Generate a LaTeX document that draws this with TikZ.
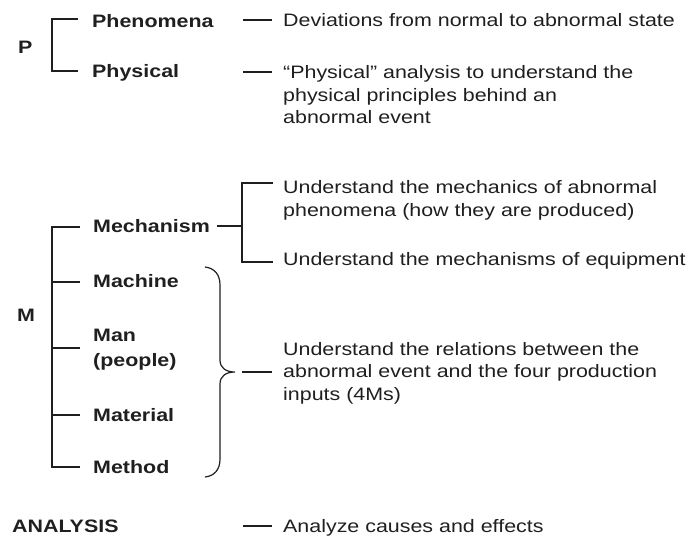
\documentclass[tikz,border=0pt]{standalone}
\usepackage{fontspec}
\setmainfont{Liberation Sans}[FakeStretch=1.19]
\definecolor{ink}{gray}{0.12}
\begin{document}
\begin{tikzpicture}[x=1pt,y=-1pt,
  lbl/.style={font=\fontsize{18}{25}\selectfont\bfseries, text=ink, inner sep=0pt, anchor=base west, align=left},
  desc/.style={font=\fontsize{18}{22.7}\selectfont, text=ink, inner sep=0pt, anchor=north west, align=left},
  link/.style={draw=ink, line width=1.3pt}]
\useasboundingbox (0,0) rectangle (692,539);

% ---- P block ----
\node[lbl] (P) at (18,53.4) {P};
\node[lbl] (phen) at (92,27.4) {Phenomena};
\node[lbl] (phys) at (92,77.6) {Physical};
\coordinate (pT) at (52,19);  \coordinate (pTe) at (78,19);
\coordinate (pB) at (52,71);  \coordinate (pBe) at (78,71);
\draw[link] (pTe) -- (pT) -- (pB) -- (pBe);

\node[desc] (dev) at (283,10.6) {\strut Deviations from normal to abnormal state};
\node[desc] (physd) at (283,62.4) {\strut “Physical” analysis to understand the\\physical principles behind an\\abnormal event};
\coordinate (d1a) at (243,20); \coordinate (d1b) at (272,20);
\coordinate (d2a) at (243,72); \coordinate (d2b) at (272,72);
\draw[link] (d1a) -- (d1b);
\draw[link] (d2a) -- (d2b);

% ---- M block ----
\node[lbl] (M) at (17,321.5) {M};
\node[lbl] (mech) at (93,232.4) {Mechanism};
\node[lbl] (mach) at (93,287.4) {Machine};
\node[lbl, anchor=north west] (man) at (93,324) {\strut Man\\(people)};
\node[lbl] (matl) at (93,421.4) {Material};
\node[lbl] (meth) at (93,473.4) {Method};

\coordinate (mT) at (52,227);
\coordinate (mB) at (52,467);
\draw[link] (80,227) -- (mT) -- (mB) -- (80,467);
\foreach \yy in {282,348,415} \draw[link] (52,\yy) -- (80,\yy);

% mechanism branch
\coordinate (kA) at (217,226);
\coordinate (kJ) at (242,226);
\coordinate (kT) at (242,183); \coordinate (kTe) at (273,183);
\coordinate (kB) at (242,262); \coordinate (kBe) at (273,262);
\draw[link] (kA) -- (kJ);
\draw[link] (kTe) -- (kT) -- (kB) -- (kBe);
\node[desc] (mechd) at (283,177.5) {\strut Understand the mechanics of abnormal\\phenomena (how they are produced)};
\node[desc] (equip) at (283,249.5) {\strut Understand the mechanisms of equipment};

% brace over the four Ms
\coordinate (brT) at (205,267);
\coordinate (brTip) at (235,372);
\coordinate (brB) at (205,477);
\draw[link, line width=1.2pt] (brT) .. controls (214,268) and (220,274) .. (220,285)
  -- (220,360) .. controls (220,368) and (226,372) .. (brTip)
  .. controls (226,372) and (220,376) .. (220,384)
  -- (220,459) .. controls (220,470) and (214,476) .. (brB);
\coordinate (r1a) at (242,372); \coordinate (r1b) at (272,372);
\draw[link] (r1a) -- (r1b);
\node[desc] (rel) at (283,339.1) {\strut Understand the relations between the\\abnormal event and the four production\\inputs (4Ms)};

% ---- analysis ----
\node[lbl] (ana) at (12,532.4) {ANALYSIS};
\coordinate (a1a) at (243,526); \coordinate (a1b) at (272,526);
\draw[link] (a1a) -- (a1b);
\node[desc] (anad) at (283,516.5) {\strut Analyze causes and effects};
\end{tikzpicture}
\end{document}
